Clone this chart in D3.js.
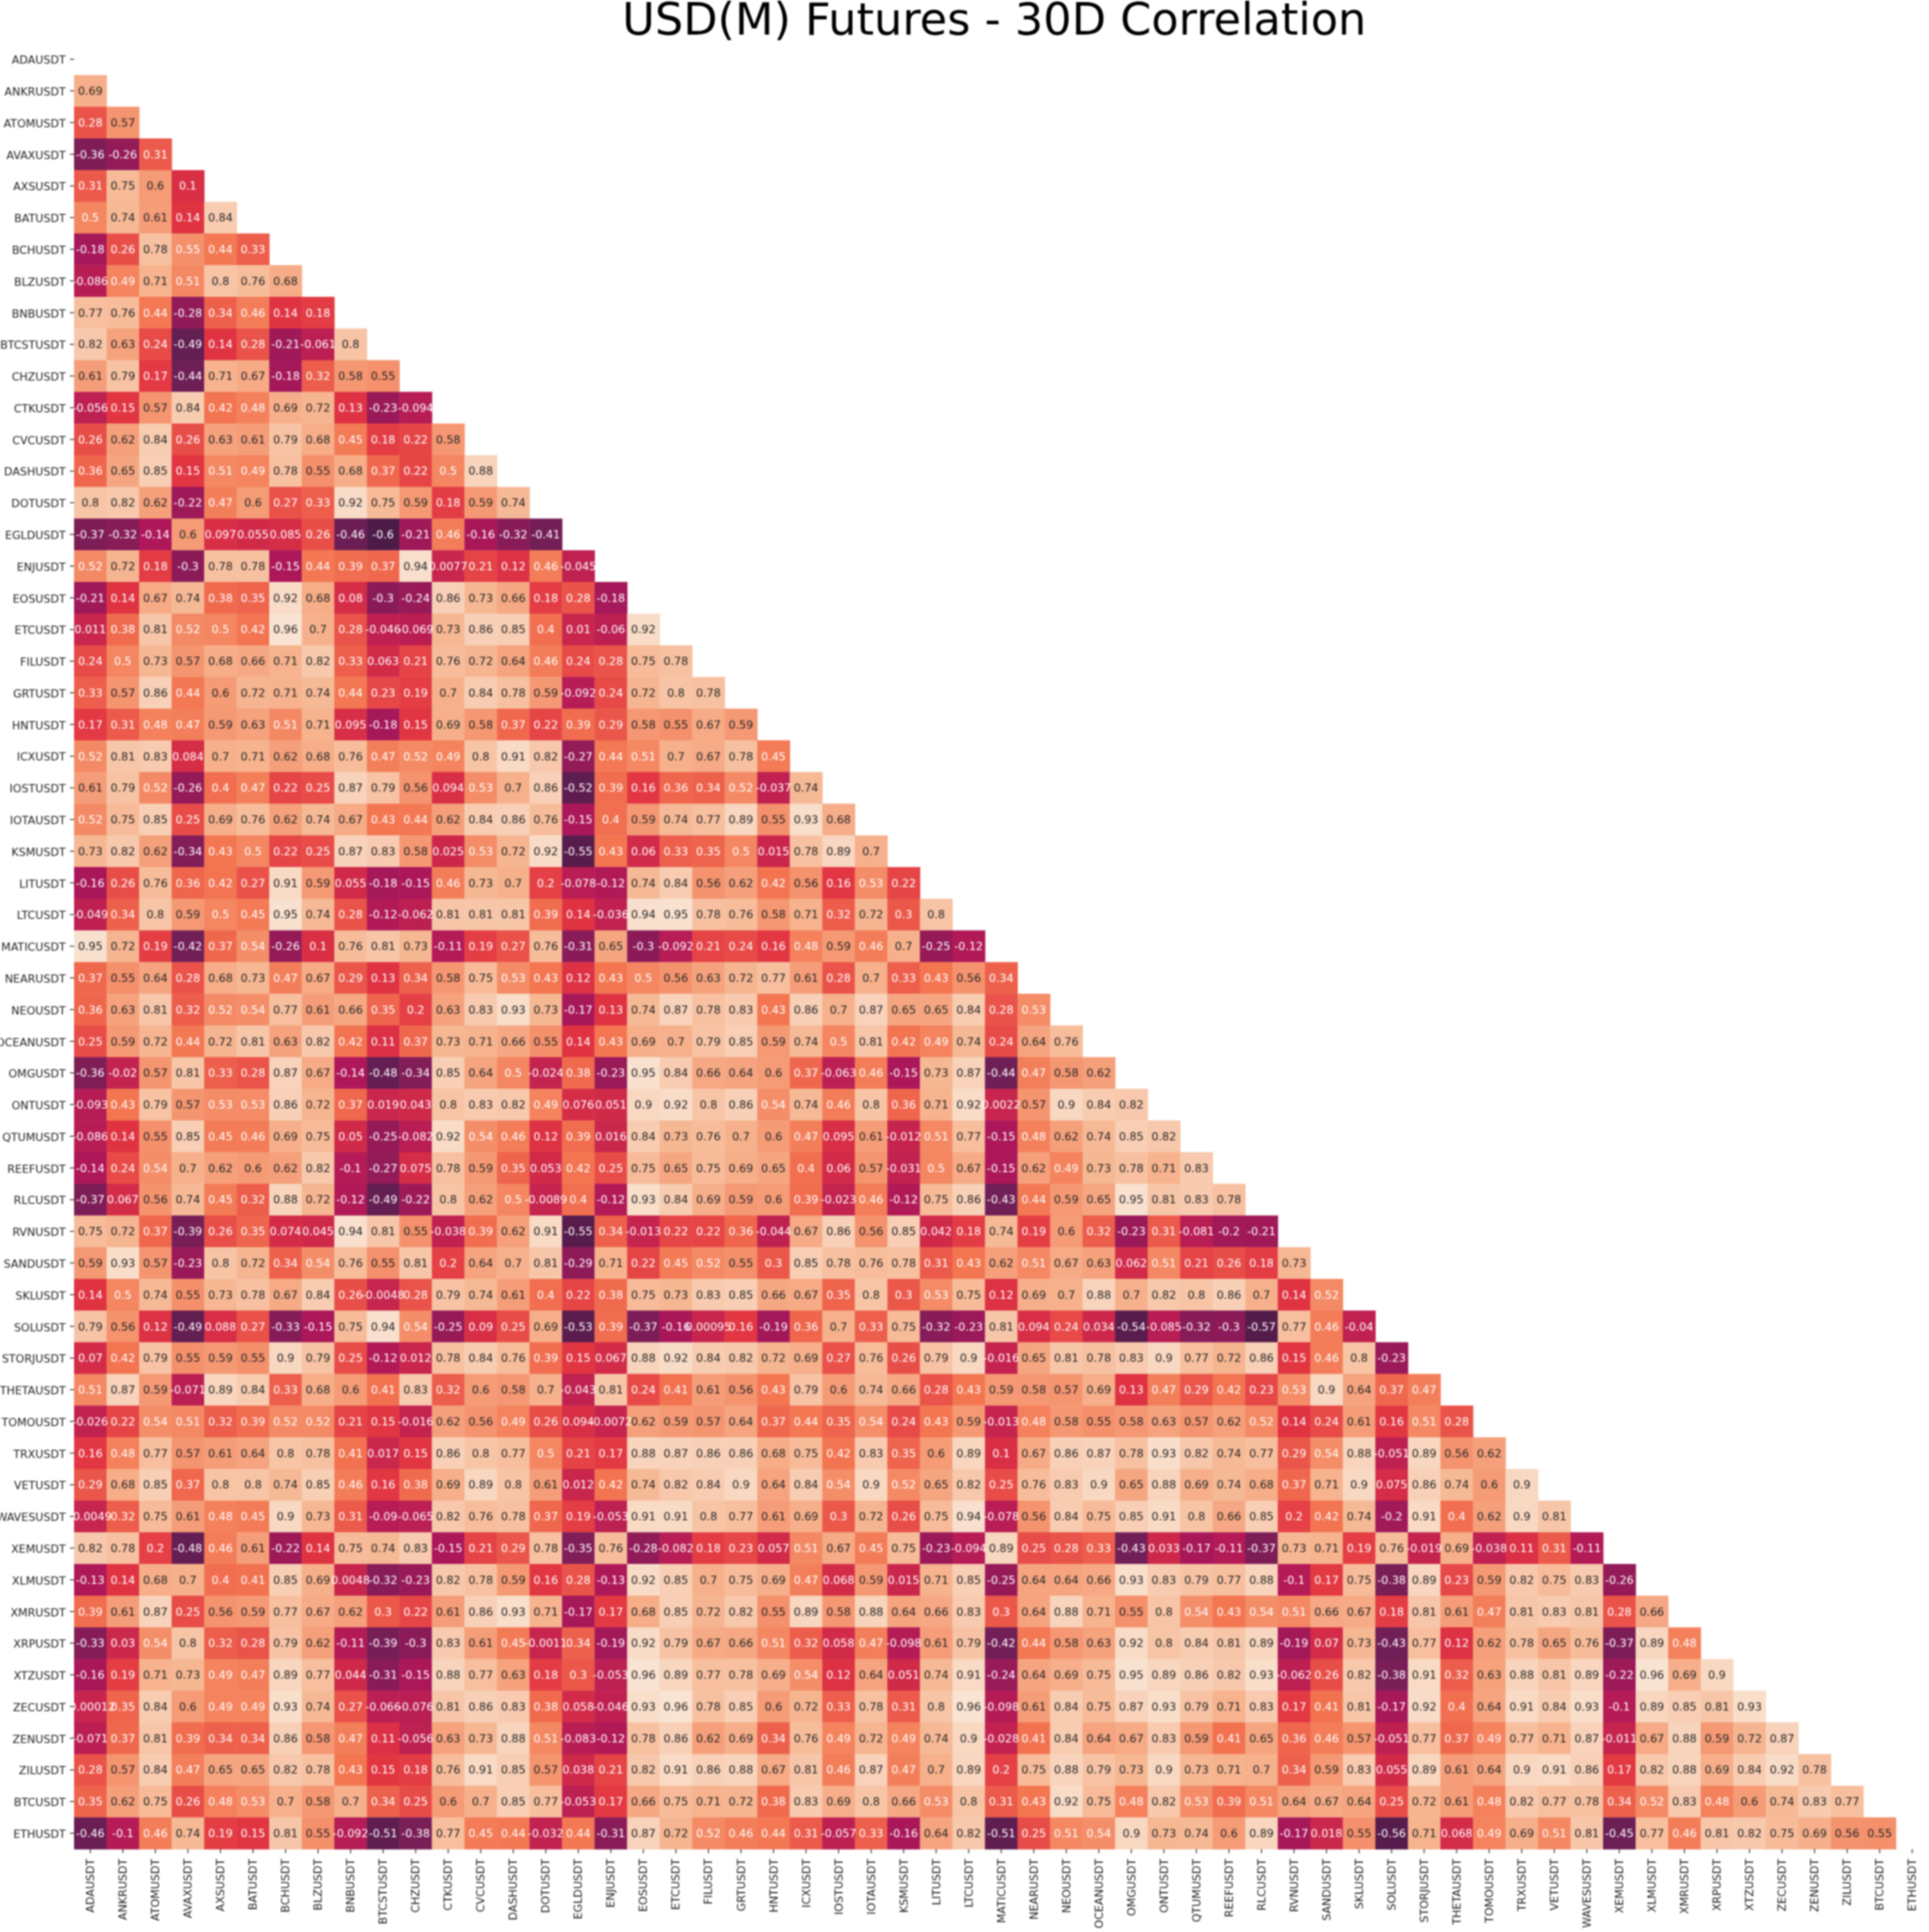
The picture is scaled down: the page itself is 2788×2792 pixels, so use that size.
<!DOCTYPE html>
<html><head><meta charset="utf-8">
<script src="https://cdn.jsdelivr.net/npm/d3@7/dist/d3.min.js"></script>
<style>html,body{margin:0;padding:0;background:#fff}svg{display:block;filter:blur(0.8px)}text{font-family:"DejaVu Sans",sans-serif}</style>
</head><body><div id="chart"></div>
<script>
const title = "USD(M) Futures - 30D Correlation";
const symbols = ["ADAUSDT","ANKRUSDT","ATOMUSDT","AVAXUSDT","AXSUSDT","BATUSDT","BCHUSDT","BLZUSDT","BNBUSDT","BTCSTUSDT","CHZUSDT","CTKUSDT","CVCUSDT","DASHUSDT","DOTUSDT","EGLDUSDT","ENJUSDT","EOSUSDT","ETCUSDT","FILUSDT","GRTUSDT","HNTUSDT","ICXUSDT","IOSTUSDT","IOTAUSDT","KSMUSDT","LITUSDT","LTCUSDT","MATICUSDT","NEARUSDT","NEOUSDT","OCEANUSDT","OMGUSDT","ONTUSDT","QTUMUSDT","REEFUSDT","RLCUSDT","RVNUSDT","SANDUSDT","SKLUSDT","SOLUSDT","STORJUSDT","THETAUSDT","TOMOUSDT","TRXUSDT","VETUSDT","WAVESUSDT","XEMUSDT","XLMUSDT","XMRUSDT","XRPUSDT","XTZUSDT","ZECUSDT","ZENUSDT","ZILUSDT","BTCUSDT","ETHUSDT"];
// Lower triangle of the correlation matrix: row i holds i values
const correlations = [
[],
[0.69],
[0.28,0.57],
[-0.36,-0.26,0.31],
[0.31,0.75,0.6,0.1],
[0.5,0.74,0.61,0.14,0.84],
[-0.18,0.26,0.78,0.549,0.44,0.33],
[-0.086,0.49,0.71,0.51,0.8,0.76,0.68],
[0.77,0.76,0.44,-0.28,0.34,0.46,0.14,0.18],
[0.82,0.63,0.24,-0.49,0.14,0.28,-0.21,-0.061,0.8],
[0.61,0.79,0.17,-0.44,0.71,0.67,-0.18,0.32,0.58,0.55],
[-0.056,0.15,0.57,0.84,0.42,0.48,0.69,0.72,0.13,-0.23,-0.094],
[0.26,0.62,0.84,0.26,0.63,0.61,0.79,0.68,0.45,0.18,0.22,0.58],
[0.36,0.65,0.85,0.15,0.51,0.49,0.78,0.55,0.68,0.37,0.22,0.5,0.88],
[0.8,0.82,0.62,-0.22,0.47,0.6,0.27,0.33,0.92,0.75,0.59,0.18,0.59,0.74],
[-0.37,-0.32,-0.14,0.6,0.097,0.055,0.085,0.26,-0.46,-0.6,-0.21,0.46,-0.16,-0.32,-0.41],
[0.52,0.72,0.18,-0.3,0.78,0.78,-0.15,0.44,0.39,0.37,0.94,0.0077,0.21,0.12,0.46,-0.045],
[-0.21,0.14,0.67,0.74,0.38,0.35,0.92,0.68,0.08,-0.3,-0.24,0.86,0.73,0.66,0.18,0.28,-0.18],
[0.011,0.38,0.81,0.52,0.5,0.42,0.96,0.7,0.28,-0.046,-0.069,0.73,0.86,0.85,0.4,0.01,-0.06,0.92],
[0.24,0.5,0.73,0.57,0.68,0.66,0.71,0.82,0.33,0.063,0.21,0.76,0.72,0.64,0.46,0.24,0.28,0.75,0.78],
[0.33,0.57,0.86,0.44,0.6,0.72,0.71,0.74,0.44,0.23,0.19,0.7,0.84,0.78,0.59,-0.092,0.24,0.72,0.8,0.78],
[0.17,0.31,0.48,0.47,0.59,0.63,0.51,0.71,0.095,-0.18,0.15,0.69,0.58,0.37,0.22,0.39,0.29,0.58,0.55,0.67,0.59],
[0.52,0.81,0.83,0.084,0.7,0.71,0.62,0.68,0.76,0.47,0.52,0.49,0.8,0.91,0.82,-0.27,0.44,0.51,0.7,0.67,0.78,0.45],
[0.61,0.79,0.52,-0.26,0.4,0.47,0.22,0.25,0.87,0.79,0.56,0.094,0.53,0.7,0.86,-0.52,0.39,0.16,0.36,0.34,0.52,-0.037,0.74],
[0.52,0.75,0.85,0.25,0.69,0.76,0.62,0.74,0.67,0.43,0.44,0.62,0.84,0.86,0.76,-0.15,0.4,0.59,0.74,0.77,0.89,0.55,0.93,0.68],
[0.73,0.82,0.62,-0.34,0.43,0.5,0.22,0.25,0.87,0.83,0.58,0.025,0.53,0.72,0.92,-0.55,0.43,0.06,0.33,0.35,0.5,0.015,0.78,0.89,0.7],
[-0.16,0.26,0.76,0.36,0.42,0.27,0.91,0.59,0.055,-0.18,-0.15,0.46,0.73,0.7,0.2,-0.078,-0.12,0.74,0.84,0.56,0.62,0.42,0.56,0.16,0.53,0.22],
[-0.049,0.34,0.8,0.59,0.5,0.45,0.95,0.74,0.28,-0.12,-0.062,0.81,0.81,0.81,0.39,0.14,-0.036,0.94,0.95,0.78,0.76,0.58,0.71,0.32,0.72,0.3,0.8],
[0.95,0.72,0.19,-0.42,0.37,0.54,-0.26,0.1,0.76,0.81,0.73,-0.11,0.19,0.27,0.76,-0.31,0.65,-0.3,-0.092,0.21,0.24,0.16,0.48,0.59,0.46,0.7,-0.25,-0.12],
[0.37,0.55,0.64,0.28,0.68,0.73,0.47,0.67,0.29,0.13,0.34,0.58,0.75,0.53,0.43,0.12,0.43,0.5,0.56,0.63,0.72,0.77,0.61,0.28,0.7,0.33,0.43,0.56,0.34],
[0.36,0.63,0.81,0.32,0.52,0.54,0.77,0.61,0.66,0.35,0.2,0.63,0.83,0.93,0.73,-0.17,0.13,0.74,0.87,0.78,0.83,0.43,0.86,0.7,0.87,0.65,0.65,0.84,0.28,0.53],
[0.25,0.59,0.72,0.44,0.72,0.81,0.63,0.82,0.42,0.11,0.37,0.73,0.71,0.66,0.55,0.14,0.43,0.69,0.7,0.79,0.85,0.59,0.74,0.5,0.81,0.42,0.49,0.74,0.24,0.64,0.76],
[-0.36,-0.02,0.57,0.81,0.33,0.28,0.87,0.67,-0.14,-0.48,-0.34,0.85,0.64,0.5,-0.024,0.38,-0.23,0.95,0.84,0.66,0.64,0.6,0.37,-0.063,0.46,-0.15,0.73,0.87,-0.44,0.47,0.58,0.62],
[-0.093,0.43,0.79,0.57,0.53,0.53,0.86,0.72,0.37,0.019,0.043,0.8,0.83,0.82,0.49,0.076,0.051,0.9,0.92,0.8,0.86,0.54,0.74,0.46,0.8,0.36,0.71,0.92,0.0022,0.57,0.9,0.84,0.82],
[-0.086,0.14,0.55,0.85,0.45,0.46,0.69,0.75,0.05,-0.25,-0.082,0.92,0.54,0.46,0.12,0.39,0.016,0.84,0.73,0.76,0.7,0.6,0.47,0.095,0.61,-0.012,0.51,0.77,-0.15,0.48,0.62,0.74,0.85,0.82],
[-0.14,0.24,0.54,0.7,0.62,0.6,0.62,0.82,-0.1,-0.27,0.075,0.78,0.59,0.35,0.053,0.42,0.25,0.75,0.65,0.75,0.69,0.65,0.4,0.06,0.57,-0.031,0.5,0.67,-0.15,0.62,0.49,0.73,0.78,0.71,0.83],
[-0.37,0.067,0.56,0.74,0.45,0.32,0.88,0.72,-0.12,-0.49,-0.22,0.8,0.62,0.5,-0.0089,0.4,-0.12,0.93,0.84,0.69,0.59,0.6,0.39,-0.023,0.46,-0.12,0.75,0.86,-0.43,0.44,0.59,0.65,0.95,0.81,0.83,0.78],
[0.75,0.72,0.37,-0.39,0.26,0.35,0.074,0.045,0.94,0.81,0.55,-0.038,0.39,0.62,0.91,-0.55,0.34,-0.013,0.22,0.22,0.36,-0.044,0.67,0.86,0.56,0.85,0.042,0.18,0.74,0.19,0.6,0.32,-0.23,0.31,-0.081,-0.2,-0.21],
[0.59,0.93,0.57,-0.23,0.8,0.72,0.34,0.54,0.76,0.55,0.81,0.2,0.64,0.7,0.81,-0.29,0.71,0.22,0.45,0.52,0.55,0.3,0.85,0.78,0.76,0.78,0.31,0.43,0.62,0.51,0.67,0.63,0.062,0.51,0.21,0.26,0.18,0.73],
[0.14,0.5,0.74,0.55,0.73,0.78,0.67,0.84,0.26,-0.0048,0.28,0.79,0.74,0.61,0.4,0.22,0.38,0.75,0.73,0.83,0.85,0.66,0.67,0.35,0.8,0.3,0.53,0.75,0.12,0.69,0.7,0.88,0.7,0.82,0.8,0.86,0.7,0.14,0.52],
[0.79,0.56,0.12,-0.49,0.088,0.27,-0.33,-0.15,0.75,0.94,0.54,-0.25,0.09,0.25,0.69,-0.53,0.39,-0.37,-0.16,0.00095,0.16,-0.19,0.36,0.7,0.33,0.75,-0.32,-0.23,0.81,0.094,0.24,0.034,-0.54,-0.085,-0.32,-0.3,-0.57,0.77,0.46,-0.04],
[0.07,0.42,0.79,0.55,0.59,0.55,0.9,0.79,0.25,-0.12,0.012,0.78,0.84,0.76,0.39,0.15,0.067,0.88,0.92,0.84,0.82,0.72,0.69,0.27,0.76,0.26,0.79,0.9,-0.016,0.65,0.81,0.78,0.83,0.9,0.77,0.72,0.86,0.15,0.46,0.8,-0.23],
[0.51,0.87,0.59,-0.071,0.89,0.84,0.33,0.68,0.6,0.41,0.83,0.32,0.6,0.58,0.7,-0.043,0.81,0.24,0.41,0.61,0.56,0.43,0.79,0.6,0.74,0.66,0.28,0.43,0.59,0.58,0.57,0.69,0.13,0.47,0.29,0.42,0.23,0.53,0.9,0.64,0.37,0.47],
[-0.026,0.22,0.54,0.51,0.32,0.39,0.52,0.52,0.21,0.15,-0.016,0.62,0.56,0.49,0.26,0.094,-0.0072,0.62,0.59,0.57,0.64,0.37,0.44,0.35,0.54,0.24,0.43,0.59,-0.013,0.48,0.58,0.55,0.58,0.63,0.57,0.62,0.52,0.14,0.24,0.61,0.16,0.51,0.28],
[0.16,0.48,0.77,0.57,0.61,0.64,0.8,0.78,0.41,0.017,0.15,0.86,0.8,0.77,0.5,0.21,0.17,0.88,0.87,0.86,0.86,0.68,0.75,0.42,0.83,0.35,0.6,0.89,0.1,0.67,0.86,0.87,0.78,0.93,0.82,0.74,0.77,0.29,0.54,0.88,-0.051,0.89,0.56,0.62],
[0.29,0.68,0.85,0.37,0.8,0.8,0.74,0.85,0.46,0.16,0.38,0.69,0.89,0.8,0.61,0.012,0.42,0.74,0.82,0.84,0.9,0.64,0.84,0.54,0.9,0.52,0.65,0.82,0.25,0.76,0.83,0.9,0.65,0.88,0.69,0.74,0.68,0.37,0.71,0.9,0.075,0.86,0.74,0.6,0.9],
[-0.0049,0.32,0.75,0.61,0.48,0.45,0.9,0.73,0.31,-0.09,-0.065,0.82,0.76,0.78,0.37,0.19,-0.053,0.91,0.91,0.8,0.77,0.61,0.69,0.3,0.72,0.26,0.75,0.94,-0.078,0.56,0.84,0.75,0.85,0.91,0.8,0.66,0.85,0.2,0.42,0.74,-0.2,0.91,0.4,0.62,0.9,0.81],
[0.82,0.78,0.2,-0.48,0.46,0.61,-0.22,0.14,0.75,0.74,0.83,-0.15,0.21,0.29,0.78,-0.35,0.76,-0.28,-0.082,0.18,0.23,0.057,0.51,0.67,0.45,0.75,-0.23,-0.094,0.89,0.25,0.28,0.33,-0.43,0.033,-0.17,-0.11,-0.37,0.73,0.71,0.19,0.76,-0.019,0.69,-0.038,0.11,0.31,-0.11],
[-0.13,0.14,0.68,0.7,0.4,0.41,0.85,0.69,0.0048,-0.32,-0.23,0.82,0.78,0.59,0.16,0.28,-0.13,0.92,0.85,0.7,0.75,0.69,0.47,0.068,0.59,0.015,0.71,0.85,-0.25,0.64,0.64,0.66,0.93,0.83,0.79,0.77,0.88,-0.1,0.17,0.75,-0.38,0.89,0.23,0.59,0.82,0.75,0.83,-0.26],
[0.39,0.61,0.87,0.25,0.56,0.59,0.77,0.67,0.62,0.3,0.22,0.61,0.86,0.93,0.71,-0.17,0.17,0.68,0.85,0.72,0.82,0.55,0.89,0.58,0.88,0.64,0.66,0.83,0.3,0.64,0.88,0.71,0.55,0.8,0.54,0.43,0.54,0.51,0.66,0.67,0.18,0.81,0.61,0.47,0.81,0.83,0.81,0.28,0.66],
[-0.33,0.03,0.54,0.8,0.32,0.28,0.79,0.62,-0.11,-0.39,-0.3,0.83,0.61,0.45,-0.0011,0.34,-0.19,0.92,0.79,0.67,0.66,0.51,0.32,0.058,0.47,-0.098,0.61,0.79,-0.42,0.44,0.58,0.63,0.92,0.8,0.84,0.81,0.89,-0.19,0.07,0.73,-0.43,0.77,0.12,0.62,0.78,0.65,0.76,-0.37,0.89,0.48],
[-0.16,0.19,0.71,0.73,0.49,0.47,0.89,0.77,0.044,-0.31,-0.15,0.88,0.77,0.63,0.18,0.3,-0.053,0.96,0.89,0.77,0.78,0.69,0.54,0.12,0.64,0.051,0.74,0.91,-0.24,0.64,0.69,0.75,0.95,0.89,0.86,0.82,0.93,-0.062,0.26,0.82,-0.38,0.91,0.32,0.63,0.88,0.81,0.89,-0.22,0.96,0.69,0.9],
[-0.00012,0.35,0.84,0.6,0.49,0.49,0.93,0.74,0.27,-0.066,-0.076,0.81,0.86,0.83,0.38,0.058,-0.046,0.93,0.96,0.78,0.85,0.6,0.72,0.33,0.78,0.31,0.8,0.96,-0.098,0.61,0.84,0.75,0.87,0.93,0.79,0.71,0.83,0.17,0.41,0.81,-0.17,0.92,0.4,0.64,0.91,0.84,0.93,-0.1,0.89,0.85,0.81,0.93],
[-0.071,0.37,0.81,0.39,0.34,0.34,0.86,0.58,0.47,0.11,-0.056,0.63,0.73,0.88,0.51,-0.083,-0.12,0.78,0.86,0.62,0.69,0.34,0.76,0.49,0.72,0.49,0.74,0.9,-0.028,0.41,0.84,0.64,0.67,0.83,0.59,0.41,0.65,0.36,0.46,0.57,-0.051,0.77,0.37,0.49,0.77,0.71,0.87,-0.011,0.67,0.88,0.59,0.72,0.87],
[0.28,0.57,0.84,0.47,0.65,0.65,0.82,0.78,0.43,0.15,0.18,0.76,0.91,0.85,0.57,0.038,0.21,0.82,0.91,0.86,0.88,0.67,0.81,0.46,0.87,0.47,0.7,0.89,0.2,0.75,0.88,0.79,0.73,0.9,0.73,0.71,0.7,0.34,0.59,0.83,0.055,0.89,0.61,0.64,0.9,0.91,0.86,0.17,0.82,0.88,0.69,0.84,0.92,0.78],
[0.35,0.62,0.75,0.26,0.48,0.53,0.7,0.58,0.7,0.34,0.25,0.6,0.7,0.85,0.77,-0.053,0.17,0.66,0.75,0.71,0.72,0.38,0.83,0.69,0.8,0.66,0.53,0.8,0.31,0.43,0.92,0.75,0.48,0.82,0.53,0.39,0.51,0.64,0.67,0.64,0.25,0.72,0.61,0.48,0.82,0.77,0.78,0.34,0.52,0.83,0.48,0.6,0.74,0.83,0.77],
[-0.46,-0.1,0.46,0.74,0.19,0.15,0.81,0.55,-0.092,-0.51,-0.38,0.77,0.45,0.44,-0.032,0.44,-0.31,0.87,0.72,0.52,0.46,0.44,0.31,-0.057,0.33,-0.16,0.64,0.82,-0.51,0.25,0.51,0.54,0.9,0.73,0.74,0.6,0.89,-0.17,0.018,0.55,-0.56,0.71,0.068,0.49,0.69,0.51,0.81,-0.45,0.77,0.46,0.81,0.82,0.75,0.69,0.56,0.55]
];
const rocketStops = ["#03051a","#35193e","#701f57","#ad1759","#e13342","#f37651","#f6b48f","#faebdd"];

const W = 2788, H = 2792;
const left = 107, top0 = 62.7, colW = 47.02, rowH = 45.78;
const x = d3.scaleBand().domain(symbols).range([left, left + colW * symbols.length]);
const y = d3.scaleBand().domain(symbols).range([top0, top0 + rowH * symbols.length]);
const rocket = d3.scaleSequential(d3.piecewise(d3.interpolateRgb, rocketStops)).domain([-1, 1]);
const fmt = v => d3.format(".2~g")(v).replace("\u2212", "-");

const cells = correlations.flatMap((row, i) => row.map((v, j) => ({r: symbols[i], c: symbols[j], v})));

const svg = d3.select("#chart").append("svg").attr("width", W).attr("height", H).attr("viewBox", [0, 0, W, H]);

svg.append("g").selectAll("rect").data(cells).join("rect")
  .attr("x", d => x(d.c)).attr("y", d => y(d.r))
  .attr("width", x.bandwidth() + 0.5).attr("height", y.bandwidth() + 0.5)
  .attr("fill", d => rocket(d.v));

svg.append("g").attr("font-size", 16).attr("text-anchor", "middle").selectAll("text").data(cells).join("text")
  .attr("x", d => x(d.c) + x.bandwidth() / 2)
  .attr("y", d => y(d.r) + y.bandwidth() / 2)
  .attr("dy", "0.36em")
  .attr("fill", d => d.v >= 0.55 ? "#262626" : "#ffffff")
  .text(d => fmt(d.v));

const yAxis = d3.axisLeft(y).tickSize(6).tickPadding(6);
const gy = svg.append("g").attr("transform", `translate(${left},0)`).call(yAxis);
const xAxis = d3.axisBottom(x).tickSize(6).tickPadding(6);
const gx = svg.append("g").attr("transform", `translate(0,${top0 + rowH * symbols.length})`).call(xAxis);
[gy, gx].forEach(g => {
  g.select(".domain").remove();
  g.selectAll("line").attr("stroke", "#262626").attr("stroke-width", 1.3);
  g.selectAll("text").attr("font-size", 16).attr("font-family", '"DejaVu Sans",sans-serif').attr("fill", "#262626");
});
gy.selectAll("text").attr("dy", "0.42em");
gx.selectAll("text")
  .attr("transform", "rotate(-90)")
  .attr("text-anchor", "end").attr("dy", "0.35em").attr("y", 0).attr("x", -14);

svg.append("text").attr("x", 1437).attr("y", 50).attr("text-anchor", "middle")
  .attr("font-size", 64.5).attr("fill", "#000").text(title);
</script></body></html>
